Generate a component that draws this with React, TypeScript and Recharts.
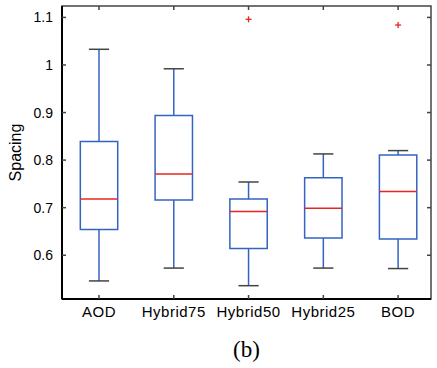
import React from 'react';
import { ComposedChart, XAxis, YAxis, ReferenceArea, ReferenceLine, Scatter } from 'recharts';

const categories = ['AOD', 'Hybrid75', 'Hybrid50', 'Hybrid25', 'BOD'];
const whiskerLow = [0.546, 0.573, 0.536, 0.573, 0.572];
const quartile1 = [0.654, 0.716, 0.614, 0.636, 0.634];
const medians = [0.718, 0.771, 0.692, 0.699, 0.734];
const quartile3 = [0.839, 0.894, 0.718, 0.763, 0.811];
const whiskerHigh = [1.033, 0.992, 0.754, 0.813, 0.820];
const outliers = [
  { cat: 3, value: 1.096 },
  { cat: 5, value: 1.084 },
];
const yTicks = [0.6, 0.7, 0.8, 0.9, 1, 1.1];
const xTicks = [1, 2, 3, 4, 5];

const BLUE = '#3464c2';
const RED = '#e8261f';
const CAP = '#444444';
const FRAME = '#444444';
const FONT = '"Liberation Sans", Arial, sans-serif';
const BOX_HALF = 0.25;
const CAP_HALF = 0.135;
const TICK_LEN = 4;
const X_DOMAIN: [number, number] = [0.505, 5.44];
const Y_DOMAIN: [number, number] = [0.508, 1.124];

const LeftTick = (props: any) => {
  const { x, y, payload } = props;
  return (
    <text x={x - 9} y={y + 5} textAnchor="end" fontSize={14} fontFamily={FONT} fill="#000">
      {String(payload.value)}
    </text>
  );
};

const BottomTick = (props: any) => {
  const { x, y, payload } = props;
  return (
    <text x={x} y={y + 18} textAnchor="middle" fontSize={15} letterSpacing={0.5} fontFamily={FONT} fill="#000">
      {categories[payload.value - 1]}
    </text>
  );
};

const LMark = (p: any) => <line x1={p.cx} y1={p.cy} x2={p.cx + TICK_LEN} y2={p.cy} stroke={FRAME} strokeWidth={1.5} />;
const RMark = (p: any) => <line x1={p.cx} y1={p.cy} x2={p.cx - TICK_LEN} y2={p.cy} stroke={FRAME} strokeWidth={1.5} />;
const BMark = (p: any) => <line x1={p.cx} y1={p.cy} x2={p.cx} y2={p.cy - TICK_LEN} stroke={FRAME} strokeWidth={1.5} />;
const TMark = (p: any) => <line x1={p.cx} y1={p.cy} x2={p.cx} y2={p.cy + TICK_LEN} stroke={FRAME} strokeWidth={1.5} />;

const Cross = (props: any) => {
  const { cx, cy } = props;
  return (
    <g>
      <line x1={cx - 3} y1={cy} x2={cx + 3} y2={cy} stroke={RED} strokeWidth={1.3} />
      <line x1={cx} y1={cy - 3} x2={cx} y2={cy + 3} stroke={RED} strokeWidth={1.3} />
    </g>
  );
};

const SpacingLabel = (p: any) => {
  const vb = p.viewBox || { y: 6, height: 293 };
  const cy = vb.y + vb.height / 2;
  return (
    <text x={21} y={cy} transform={`rotate(-90, 21, ${cy})`} textAnchor="middle" fontSize={16} fontFamily={FONT} fill="#000">
      Spacing
    </text>
  );
};

export default function App() {
  const outlierData = outliers.map((o) => ({ x: o.cat, y: o.value }));
  const leftMarks = yTicks.map((t) => ({ x: X_DOMAIN[0], y: t }));
  const rightMarks = yTicks.map((t) => ({ x: X_DOMAIN[1], y: t }));
  const bottomMarks = xTicks.map((t) => ({ x: t, y: Y_DOMAIN[0] }));
  const topMarks = xTicks.map((t) => ({ x: t, y: Y_DOMAIN[1] }));
  return (
    <div style={{ position: 'absolute', left: 0, top: 0, width: 437, height: 368, background: '#fff' }}>
      <ComposedChart width={437} height={368} margin={{ top: 6, right: 6, bottom: 39, left: 0 }}>
        <XAxis
          type="number"
          dataKey="x"
          domain={X_DOMAIN}
          ticks={xTicks}
          allowDataOverflow
          height={30}
          tickSize={0}
          tickMargin={0}
          tickLine={false}
          axisLine={{ stroke: '#000', strokeWidth: 2 }}
          tick={<BottomTick />}
          interval={0}
        />
        <YAxis
          type="number"
          dataKey="y"
          domain={Y_DOMAIN}
          ticks={yTicks}
          allowDataOverflow
          width={62}
          tickSize={0}
          tickMargin={0}
          tickLine={false}
          axisLine={{ stroke: '#000', strokeWidth: 2 }}
          tick={<LeftTick />}
          interval={0}
          label={{ content: <SpacingLabel /> }}
        />
        <ReferenceArea
          x1={X_DOMAIN[0]}
          x2={X_DOMAIN[1]}
          y1={Y_DOMAIN[0]}
          y2={Y_DOMAIN[1]}
          ifOverflow="visible"
          fill="none"
          fillOpacity={0}
          stroke={FRAME}
          strokeWidth={1.5}
        />
        {categories.map((c, i) => {
          const p = i + 1;
          return (
            <React.Fragment key={c}>
              <ReferenceLine
                segment={[{ x: p, y: quartile3[i] }, { x: p, y: whiskerHigh[i] }]}
                stroke={BLUE}
                strokeWidth={1.5}
              />
              <ReferenceLine
                segment={[{ x: p, y: whiskerLow[i] }, { x: p, y: quartile1[i] }]}
                stroke={BLUE}
                strokeWidth={1.5}
              />
              <ReferenceLine
                segment={[{ x: p - CAP_HALF, y: whiskerHigh[i] }, { x: p + CAP_HALF, y: whiskerHigh[i] }]}
                stroke={CAP}
                strokeWidth={1.5}
              />
              <ReferenceLine
                segment={[{ x: p - CAP_HALF, y: whiskerLow[i] }, { x: p + CAP_HALF, y: whiskerLow[i] }]}
                stroke={CAP}
                strokeWidth={1.5}
              />
              <ReferenceArea
                x1={p - BOX_HALF}
                x2={p + BOX_HALF}
                y1={quartile1[i]}
                y2={quartile3[i]}
                fill="#fff"
                fillOpacity={1}
                stroke={BLUE}
                strokeWidth={1.5}
              />
              <ReferenceLine
                segment={[{ x: p - BOX_HALF, y: medians[i] }, { x: p + BOX_HALF, y: medians[i] }]}
                stroke={RED}
                strokeWidth={1.5}
              />
            </React.Fragment>
          );
        })}
        <Scatter data={leftMarks} dataKey="y" shape={<LMark />} isAnimationActive={false} />
        <Scatter data={rightMarks} dataKey="y" shape={<RMark />} isAnimationActive={false} />
        <Scatter data={bottomMarks} dataKey="y" shape={<BMark />} isAnimationActive={false} />
        <Scatter data={topMarks} dataKey="y" shape={<TMark />} isAnimationActive={false} />
        <Scatter data={outlierData} dataKey="y" shape={<Cross />} isAnimationActive={false} />
      </ComposedChart>
      <div
        style={{
          position: 'absolute',
          left: 0,
          width: 493,
          top: 337,
          textAlign: 'center',
          fontFamily: '"Liberation Serif", "Times New Roman", serif',
          fontSize: 23,
          lineHeight: '26px',
          color: '#000',
        }}
      >
        (b)
      </div>
    </div>
  );
}
